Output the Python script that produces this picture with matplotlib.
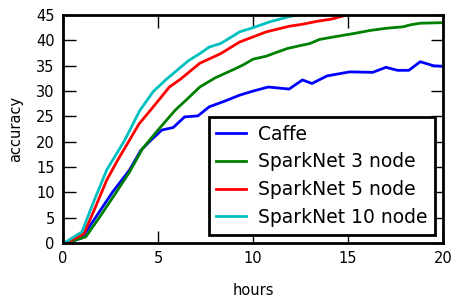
import matplotlib
matplotlib.use("Agg")
import matplotlib.pyplot as plt

# Caffe (single node)
caffe_hours = [0, 0.3, 1.0, 1.8, 2.6, 3.5, 4.1, 4.6, 5.2, 5.8, 6.4, 7.1, 7.7, 8.5, 9.3,
               10.0, 10.8, 11.9, 12.6, 13.1, 13.9, 15.1, 16.3, 17.0, 17.6, 18.2, 18.8, 19.5, 20.0]
caffe_acc = [0, 0.1, 1.0, 5.5, 10.0, 14.4, 18.3, 20.2, 22.3, 22.8, 24.9, 25.1, 26.9, 28.0, 29.2,
             30.0, 30.8, 30.4, 32.2, 31.5, 33.0, 33.8, 33.7, 34.7, 34.1, 34.1, 35.8, 35.0, 34.9]

# SparkNet 3 node
spark3_hours = [0, 0.3, 1.2, 2.0, 2.8, 3.5, 4.2, 5.0, 5.9, 6.5, 7.2, 8.0, 9.0, 9.5, 10.0,
                10.7, 11.2, 11.8, 12.5, 13.0, 13.5, 14.4, 15.2, 16.2, 17.0, 17.9, 18.3, 18.8, 19.8, 20.0]
spark3_acc = [0, 0.2, 1.2, 5.5, 10.0, 14.0, 18.7, 22.3, 26.2, 28.3, 30.8, 32.6, 34.3, 35.2, 36.3,
              36.9, 37.6, 38.4, 39.0, 39.4, 40.2, 40.8, 41.3, 42.0, 42.4, 42.7, 43.1, 43.4, 43.5, 43.5]

# SparkNet 5 node
spark5_hours = [0, 0.3, 1.1, 1.7, 2.3, 2.9, 3.5, 4.0, 4.6, 5.6, 6.2, 7.2, 8.3, 9.3, 10.0,
                10.7, 11.9, 12.6, 13.4, 14.1, 14.9, 15.5]
spark5_acc = [0, 0.3, 1.8, 7.0, 12.4, 16.5, 20.3, 23.5, 26.2, 30.8, 32.4, 35.5, 37.4, 39.7, 40.7,
              41.7, 42.8, 43.2, 43.8, 44.2, 45.0, 45.5]

# SparkNet 10 node
spark10_hours = [0, 0.2, 1.0, 1.6, 2.3, 2.8, 3.25, 4.05, 4.75, 5.4, 6.0, 6.6, 7.2, 7.7, 8.3,
                 9.0, 9.3, 9.9, 10.9, 11.9, 12.3, 13.0]
spark10_acc = [0, 0.3, 2.2, 8.0, 14.4, 17.5, 20.3, 26.2, 29.9, 32.2, 34.1, 36.0, 37.4, 38.7, 39.4,
               41.0, 41.7, 42.4, 43.7, 44.7, 45.0, 45.6]

series = [
    (caffe_hours, caffe_acc, "Caffe", "#0000ff"),
    (spark3_hours, spark3_acc, "SparkNet 3 node", "#008000"),
    (spark5_hours, spark5_acc, "SparkNet 5 node", "#ff0000"),
    (spark10_hours, spark10_acc, "SparkNet 10 node", "#00bfbf"),
]

fig = plt.figure(figsize=(4.53, 2.97), dpi=100)
ax = fig.add_axes([0.139, 0.182, 0.839, 0.767])

for x, y, label, color in series:
    ax.plot(x, y, color=color, linewidth=2, label=label)

ax.set_xlim(0, 20)
ax.set_ylim(0, 45)
ax.set_xticks([0, 5, 10, 15, 20])
ax.set_yticks(range(0, 46, 5))
ax.set_xlabel("hours", fontsize=10.5, labelpad=12)
ax.set_ylabel("accuracy", fontsize=10.5, labelpad=9)

ax.tick_params(direction="in", length=9, width=1, top=True, right=True,
               labelsize=10.5, pad=6)
for sp in ax.spines.values():
    sp.set_linewidth(2)

leg = ax.legend(loc="lower right", fontsize=13.5, fancybox=False,
                handlelength=1.6, handletextpad=0.6, borderaxespad=0.45,
                labelspacing=0.47, borderpad=0.4)
leg.get_frame().set_edgecolor("black")
leg.get_frame().set_linewidth(2)
leg.get_frame().set_alpha(1)

fig.savefig("out.png", dpi=100)
